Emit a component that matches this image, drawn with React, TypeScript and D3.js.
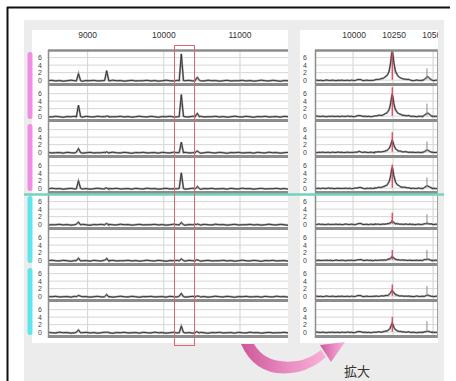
import * as d3 from 'd3'

// tick labels
const leftTicks = [9000, 10000, 11000]
const rightTicks = [10000, 10250, 10500]
const yTicks = [0, 2, 4, 6]

// left (wide) view: peak positions and heights per strip
const leftPeakPos = [8880, 9250, 10230, 10440]
const leftPeakHeights = [
  [1.8, 2.6, 7.3, 1.0],
  [3.1, 0.2, 6.0, 1.0],
  [1.1, 0.2, 2.9, 0.5],
  [2.1, 0.2, 4.3, 0.5],
  [0.7, 0.3, 0.5, 0.2],
  [0.6, 0.6, 0.5, 0.2],
  [0.4, 0.5, 0.9, 0.2],
  [0.8, 0.2, 1.8, 0.2],
]

// right (zoomed) view
const rightMainPos = 10245
const rightMainHeights = [7.9, 5.8, 3.2, 5.6, 0.8, 1.0, 1.6, 2.4]
const rightMarkerHeights = [7.9, 7.6, 5.2, 6.2, 2.9, 2.6, 3.0, 4.0]
const rightSidePos = 10465
const rightSideHeights = [1.0, 0.9, 0.6, 0.7, 0.3, 0.3, 0.3, 0.3]
const rightSpikeHeights = [3.0, 3.2, 2.7, 2.7, 2.5, 2.6, 2.6, 2.8]
// main peak profile: offset from centre, fraction of height
const profileDx = [-110, -60, -35, -20, -10, -4, 0, 4, 10, 20, 35, 60, 110]
const profileFrac = [0.02, 0.06, 0.15, 0.3, 0.6, 0.9, 1, 0.9, 0.6, 0.3, 0.15, 0.06, 0.02]

// baseline wiggle
const baselineNoise = [-0.3, -0.2, -0.35, -0.25, -0.4, -0.3, -0.15, -0.3, -0.35, -0.2, -0.3, -0.45, -0.25, -0.3, -0.2,
  -0.35, -0.3, -0.25, -0.4, -0.2, -0.3, -0.35, -0.15, -0.3, -0.25, -0.4, -0.3, -0.2, -0.35, -0.3]

const brackets = [
  { from: 0, to: 1, color: '#f08ee4' },
  { from: 2, to: 3, color: '#f08ee4' },
  { from: 4, to: 5, color: '#5ee6ea' },
  { from: 6, to: 7, color: '#5ee6ea' },
]

const STRIP_TOP = 50
const STRIP_H = 36
const N = 8
const font = 'Liberation Sans, Arial, sans-serif'

const xl = d3.scaleLinear().domain([8480, 11630]).range([48, 288])
const xr = d3.scaleLinear().domain([9762, 10531]).range([315, 438])
const profile = d3.scaleLinear().domain(profileDx).range(profileFrac).clamp(true)

const stripY = (i: number) =>
  d3.scaleLinear().domain([-1.7, 7.9]).range([STRIP_TOP + (i + 1) * STRIP_H, STRIP_TOP + i * STRIP_H])

const tri = (x: number, p: number, h: number, w: number) => h * Math.max(0, 1 - Math.abs(x - p) / w)

function leftSeries(s: number): [number, number][] {
  const grid = d3.range(8480, 11640, 50)
  const extra = leftPeakPos.flatMap(p => [p - 28, p, p + 28])
  const xs = Array.from(new Set([...grid, ...extra])).sort((a, b) => a - b)
  return xs.map((x, i) => {
    let v = baselineNoise[(i + s * 7) % baselineNoise.length]
    leftPeakPos.forEach((p, k) => { v += tri(x, p, leftPeakHeights[s][k], 28) })
    return [x, v]
  })
}

function rightSeries(s: number): [number, number][] {
  const grid = d3.range(9762, 10540, 12)
  const extra = [...profileDx.map(d => rightMainPos + d), rightSidePos - 30, rightSidePos, rightSidePos + 30]
  const xs = Array.from(new Set([...grid, ...extra])).sort((a, b) => a - b)
  return xs.map((x, i) => {
    let v = baselineNoise[(i + s * 5) % baselineNoise.length] * 0.7
    if (Math.abs(x - rightMainPos) <= 110) v += rightMainHeights[s] * profile(x - rightMainPos)
    v += tri(x, rightSidePos, rightSideHeights[s], 30)
    v += tri(x, 10040, 0.3, 20)
    return [x, v]
  })
}

function Strip({ i, x, series, x0, x1, labelX }: any) {
  const y = stripY(i)
  const top = STRIP_TOP + i * STRIP_H
  const line = d3.line<[number, number]>().x(d => x(d[0])).y(d => y(d[1]))
  const data = series(i)
  return (
    <g>
      {yTicks.map(t => (
        <line key={t} x1={x0} x2={x1} y1={y(t) + 0.5} y2={y(t) + 0.5} stroke="#d6d6d6" />
      ))}
      {yTicks.map(t => (
        <text key={'l' + t} x={labelX} y={y(t) + 0.5} fontSize={7} fill="#444" fontFamily={font}
          textAnchor="middle" dominantBaseline="central">{t}</text>
      ))}
      <line x1={x0} x2={x1} y1={top + 34.5} y2={top + 34.5} stroke="#8c8c8c" strokeWidth={3} />
      <path d={line(data) ?? ''} fill="none" stroke="#a0a0a0" strokeWidth={2} clipPath="url(#clipAll)" />
      <path d={line(data) ?? ''} fill="none" stroke="#2b2b2b" strokeWidth={0.9} clipPath="url(#clipAll)" />
    </g>
  )
}

export default function App() {
  const strips = d3.range(N)
  const bottom = STRIP_TOP + N * STRIP_H
  return (
    <svg width={456} height={381} style={{ position: 'absolute', left: 0, top: 0 }}>
      <defs>
        <clipPath id="clipAll">
          <rect x={48} y={STRIP_TOP - 2} width={240} height={N * STRIP_H + 4} />
          <rect x={315} y={STRIP_TOP - 2} width={123} height={N * STRIP_H + 4} />
        </clipPath>
        <clipPath id="clipRight">
          <rect x={300} y={20} width={138} height={330} />
        </clipPath>
        <linearGradient id="arrowGrad" x1="0" x2="1" y1="0" y2="0">
          <stop offset="0" stopColor="#cf5698" />
          <stop offset="0.55" stopColor="#e98cc2" />
          <stop offset="1" stopColor="#f8b2d8" />
        </linearGradient>
      </defs>
      <rect width={456} height={381} fill="#fff" />
      <rect x={24} y={20} width={420} height={361} fill="#ececec" />
      <rect x={32} y={30} width={256} height={313} fill="#fff" />
      <rect x={300} y={30} width={138} height={313} fill="#fff" />

      {/* vertical grid */}
      {leftTicks.map(t => (
        <line key={t} x1={xl(t)} x2={xl(t)} y1={STRIP_TOP} y2={bottom} stroke="#d8cfcf" />
      ))}
      {rightTicks.map(t => (
        <line key={t} x1={xr(t)} x2={xr(t)} y1={STRIP_TOP} y2={bottom} stroke="#d8cfcf" />
      ))}

      {strips.map(i => (
        <Strip key={'l' + i} i={i} x={xl} series={leftSeries} x0={48} x1={288} labelX={40} />
      ))}
      {strips.map(i => (
        <Strip key={'r' + i} i={i} x={xr} series={rightSeries} x0={315} x1={438} labelX={305} />
      ))}

      {/* right panel spikes and red markers */}
      {strips.map(i => {
        const y = stripY(i)
        return (
          <g key={'m' + i}>
            <line x1={xr(rightSidePos - 3)} x2={xr(rightSidePos - 3)} y1={y(0)} y2={y(rightSpikeHeights[i])}
              stroke="#8a8a8a" strokeWidth={1} />
            <line x1={xr(rightMainPos)} x2={xr(rightMainPos)} y1={y(0)} y2={y(rightMarkerHeights[i])}
              stroke="#e0405a" strokeWidth={1.3} />
          </g>
        )
      })}

      {/* frames */}
      <line x1={48} x2={288} y1={STRIP_TOP + 0.5} y2={STRIP_TOP + 0.5} stroke="#8c8c8c" strokeWidth={2.5} />
      <line x1={315} x2={438} y1={STRIP_TOP + 0.5} y2={STRIP_TOP + 0.5} stroke="#8c8c8c" strokeWidth={2.5} />
      <line x1={48.5} x2={48.5} y1={STRIP_TOP} y2={bottom} stroke="#8c8c8c" strokeWidth={1.5} />
      <line x1={315.5} x2={315.5} y1={STRIP_TOP} y2={bottom} stroke="#8c8c8c" strokeWidth={1.5} />
      <line x1={437.5} x2={437.5} y1={STRIP_TOP} y2={bottom} stroke="#a0a0a0" strokeWidth={1} />

      {/* x tick labels */}
      {leftTicks.map(t => (
        <text key={t} x={xl(t)} y={38} fontSize={8.5} fill="#333" fontFamily={font} textAnchor="middle">{t}</text>
      ))}
      <g clipPath="url(#clipRight)">
        {rightTicks.map(t => (
          <text key={t} x={xr(t) + 1} y={38} fontSize={8.5} fill="#333" fontFamily={font} textAnchor="middle">{t}</text>
        ))}
      </g>

      {/* group brackets */}
      {brackets.map((b, k) => {
        const y0 = STRIP_TOP + b.from * STRIP_H + 2
        const y1 = STRIP_TOP + (b.to + 1) * STRIP_H - 3
        return <rect key={k} x={27.5} y={y0} width={5} height={y1 - y0} rx={2.5} fill={b.color} />
      })}

      <line x1={24} x2={444} y1={194.5} y2={194.5} stroke="#74d2ba" strokeWidth={2.5} />

      {/* highlight box */}
      <rect x={174.5} y={45.5} width={20} height={300} fill="none" stroke="#d86a6a" strokeWidth={1} />

      {/* arrow */}
      <path d="M 241 344 Q 257 380 298 372 Q 314 368 326 357 L 321 350 Q 310 359 297 361 Q 266 365 254 344 Z"
        fill="url(#arrowGrad)" />
      <path d="M 345 342 L 320 345 L 331 362 Z" fill="url(#arrowGrad)" />
      <text x={357} y={376} fontSize={13} fill="#333" textAnchor="middle"
        fontFamily="Noto Sans CJK JP, sans-serif">拡大</text>

      {/* outer frame */}
      <line x1={7.5} x2={7.5} y1={7} y2={381} stroke="#111" strokeWidth={2} />
      <line x1={7} x2={450} y1={7.5} y2={7.5} stroke="#111" strokeWidth={2} />
    </svg>
  )
}
